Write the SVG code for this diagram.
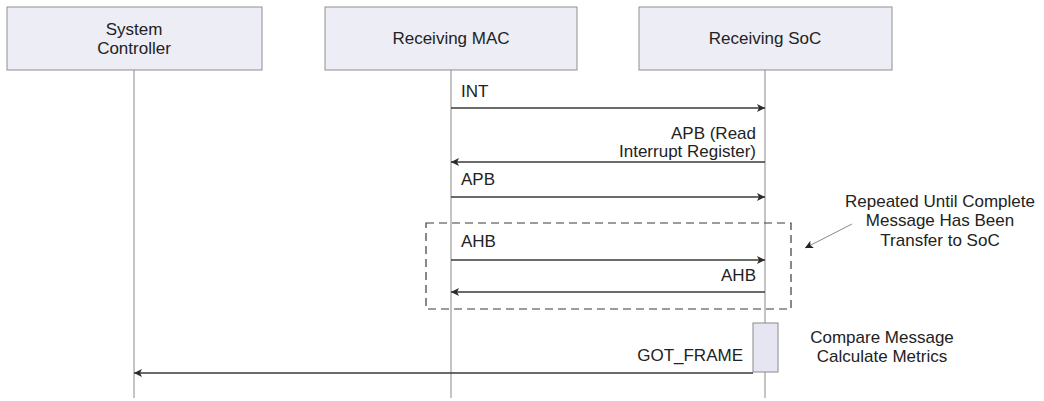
<svg xmlns="http://www.w3.org/2000/svg" width="1044" height="401" viewBox="0 0 1044 401">
<style>
text{font-family:"Liberation Sans",Arial,sans-serif;font-size:17px;fill:#222}
.box{fill:#ededf6;stroke:#8f8f8f;stroke-width:1}
.life{stroke:#8a8a8a;stroke-width:1;fill:none}
.msg{stroke:#3a3a3a;stroke-width:1.3;fill:none;marker-end:url(#ah)}
.mid{text-anchor:middle}
.end{text-anchor:end}
</style>
<defs>
<marker id="ah" viewBox="0 0 10 10" refX="10" refY="5" markerWidth="9" markerHeight="8" markerUnits="userSpaceOnUse" orient="auto">
<path d="M0,0 L10,5 L0,10 L2.5,5 Z" fill="#2a2a2a"/>
</marker>
<marker id="ah2" viewBox="0 0 10 10" refX="10" refY="5" markerWidth="9" markerHeight="8" markerUnits="userSpaceOnUse" orient="auto">
<path d="M0,0 L10,5 L0,10 L2.5,5 Z" fill="#222"/>
</marker>
</defs>
<rect width="1044" height="401" fill="#fff"/>
<g id="system-controller">
<rect class="box" x="7" y="7" width="255" height="63"/>
<text class="mid" x="134" y="35">System</text>
<text class="mid" x="134" y="54">Controller</text>
<line class="life" x1="134" y1="70" x2="134" y2="398"/>
</g>
<g id="receiving-mac">
<rect class="box" x="325" y="7" width="252" height="63"/>
<text class="mid" x="451" y="44">Receiving MAC</text>
<line class="life" x1="451" y1="70" x2="451" y2="398"/>
</g>
<g id="receiving-soc">
<rect class="box" x="639" y="7" width="253" height="63"/>
<text class="mid" x="765" y="44">Receiving SoC</text>
<line class="life" x1="765" y1="70" x2="765" y2="398"/>
</g>
<g id="repeat-frame">
<rect x="426" y="223" width="365" height="86" fill="none" stroke="#3a3a3a" stroke-width="1.2" stroke-dasharray="8,5"/>
</g>
<g id="activation">
<rect x="753" y="323" width="25" height="49" fill="#e6e6f2" stroke="#8a8a8a" stroke-width="1"/>
</g>
<g id="connectors">
<line class="msg" x1="451" y1="108" x2="765" y2="108"/>
<line class="msg" x1="765" y1="162" x2="451" y2="162"/>
<line class="msg" x1="451" y1="197" x2="765" y2="197"/>
<line class="msg" x1="451" y1="260" x2="765" y2="260"/>
<line class="msg" x1="765" y1="292" x2="451" y2="292"/>
<line class="msg" x1="753" y1="373" x2="134" y2="373"/>
<line x1="852" y1="224" x2="805" y2="248" stroke="#8a8a8a" stroke-width="1" marker-end="url(#ah2)"/>
</g>
<g id="labels">
<text x="461" y="97">INT</text>
<text class="end" x="756" y="139">APB (Read</text>
<text class="end" x="756" y="157">Interrupt Register)</text>
<text x="461" y="185">APB</text>
<text x="461" y="247">AHB</text>
<text class="end" x="756" y="281">AHB</text>
<text class="end" x="743" y="361">GOT_FRAME</text>
<text class="mid" x="882" y="343">Compare Message</text>
<text class="mid" x="882" y="362">Calculate Metrics</text>
<text class="mid" x="940" y="207">Repeated Until Complete</text>
<text class="mid" x="940" y="226">Message Has Been</text>
<text class="mid" x="940" y="246">Transfer to SoC</text>
</g>
</svg>
